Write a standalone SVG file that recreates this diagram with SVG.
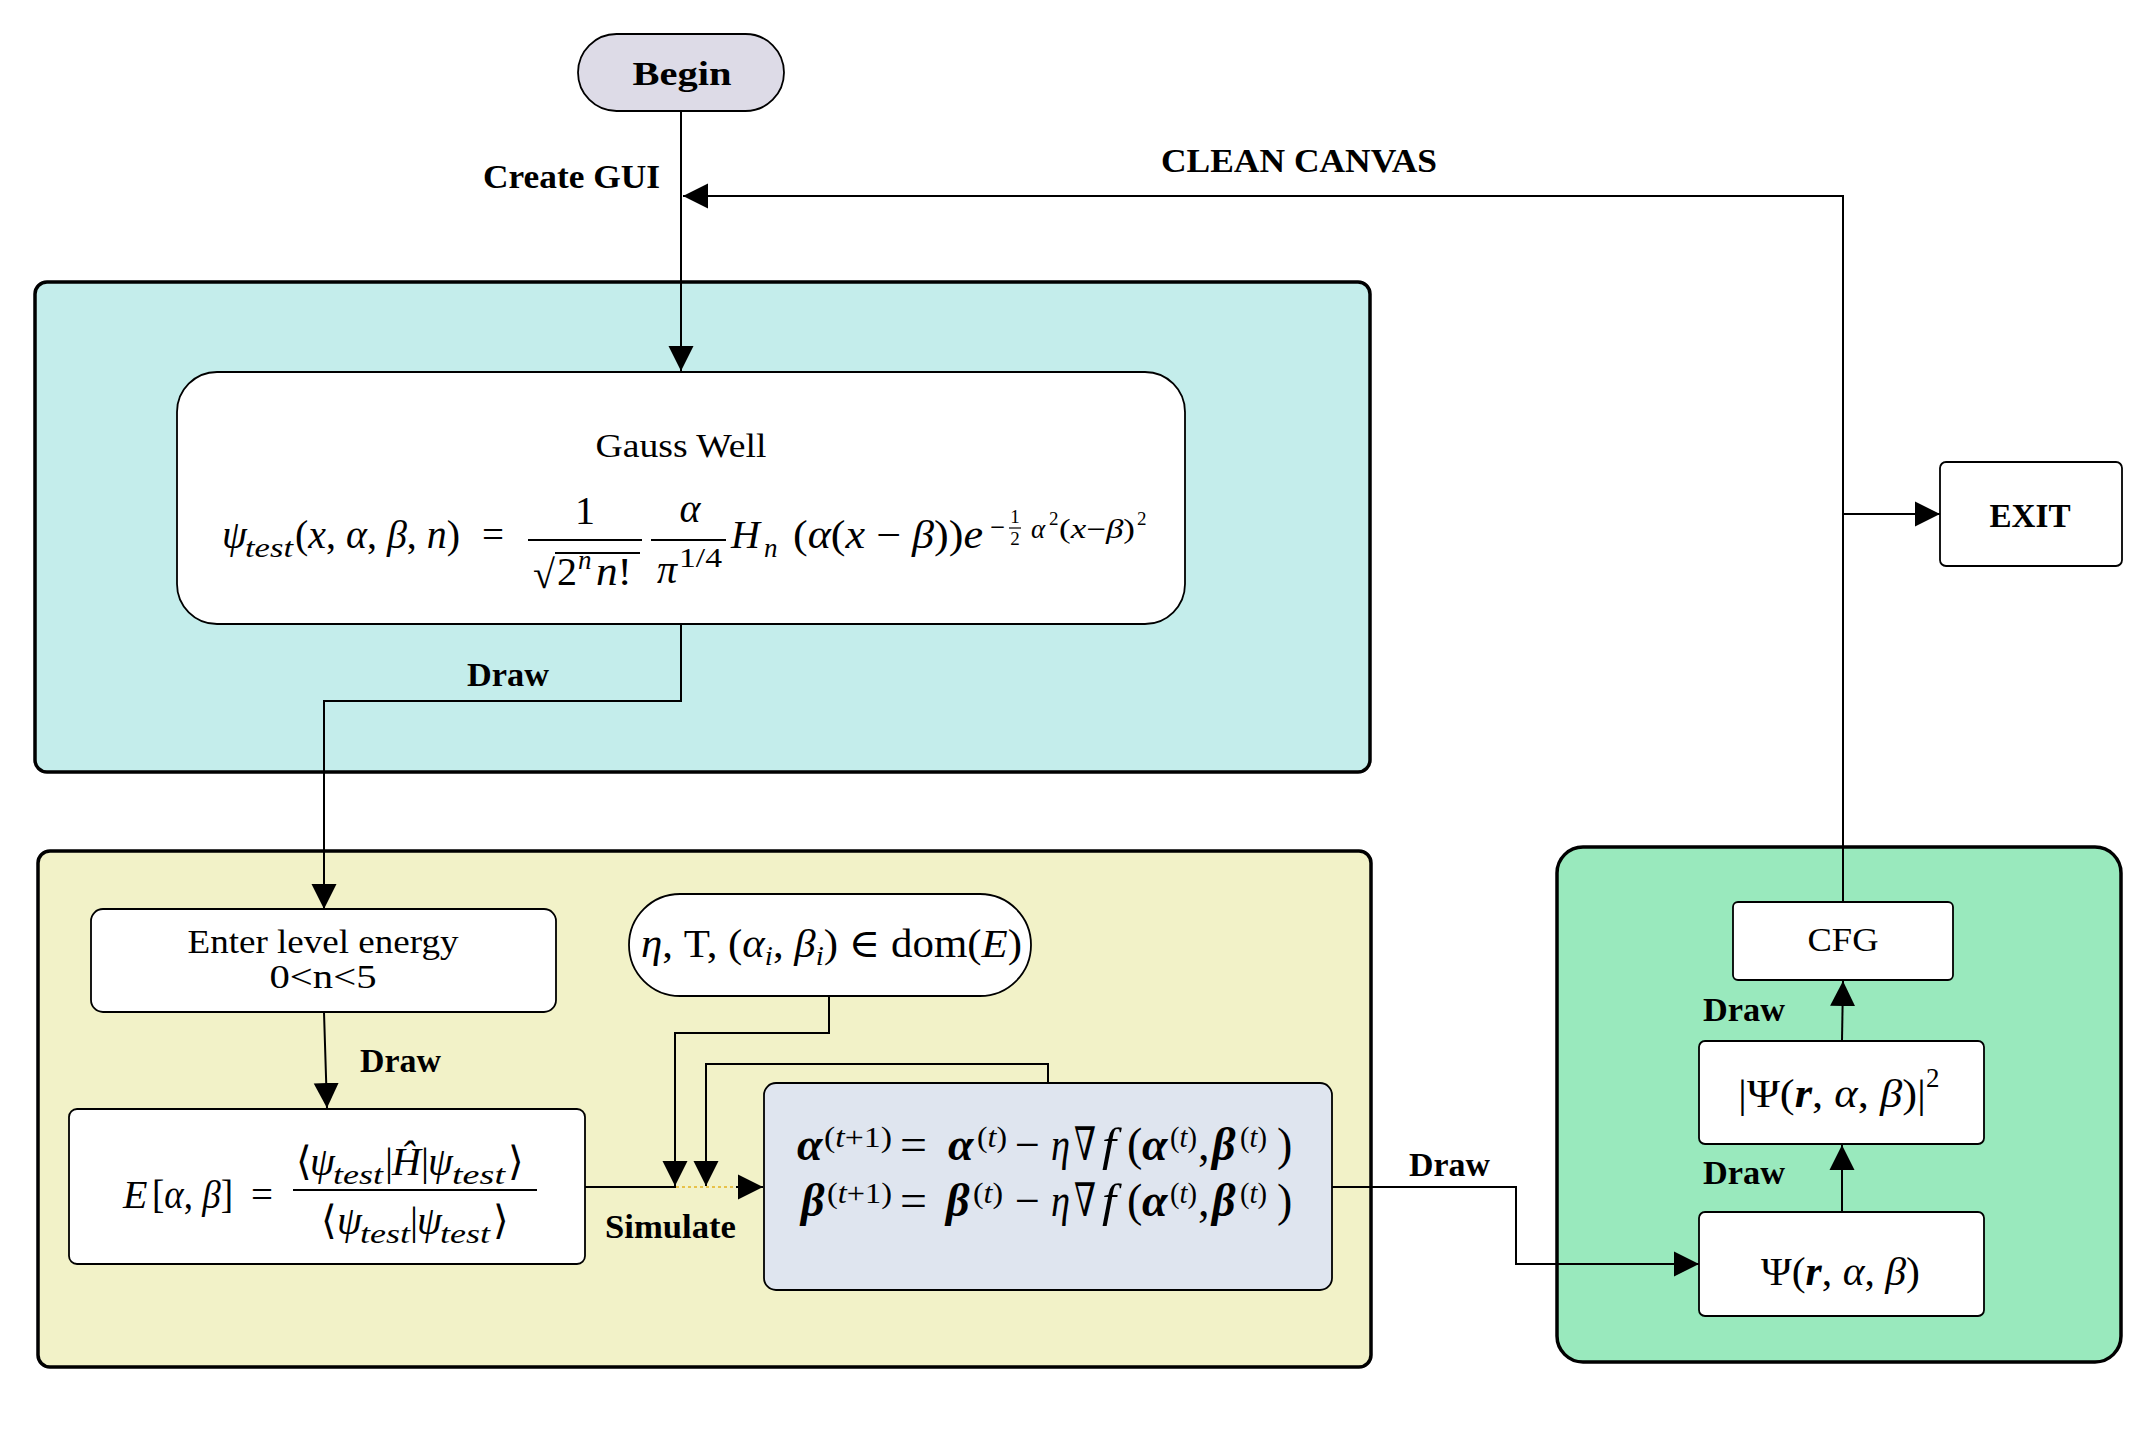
<svg xmlns="http://www.w3.org/2000/svg" width="2156" height="1440" viewBox="0 0 2156 1440">
<defs>
<style>
.cont{stroke:#000;stroke-width:3.5}
.node{stroke:#000;stroke-width:1.8}
.con{fill:none;stroke:#000;stroke-width:2}
.lbl{font-family:"Liberation Serif","DejaVu Serif",serif;font-weight:bold;font-size:33px;fill:#000}
.t{font-family:"Liberation Serif","DejaVu Serif",serif;font-size:33px;fill:#000}
.m{font-family:"Liberation Serif","DejaVu Serif",serif;font-size:40px;fill:#000}
.g{font-family:"Liberation Serif","DejaVu Serif",serif;font-size:46px;fill:#000}
.gs{font-family:"Liberation Serif","DejaVu Serif",serif;font-size:30px;fill:#000}
.i{font-style:italic}
.b{font-weight:bold}
.sm{font-size:27px}
.xs{font-size:19px}
.bar{stroke:#000;stroke-width:1.8}
</style>
<marker id="ah" markerUnits="userSpaceOnUse" markerWidth="26" markerHeight="26" refX="25" refY="13" orient="auto" viewBox="0 0 26 26"><path d="M0,0.5 L25,13 L0,25.5 Z" fill="#000"/></marker>
</defs>
<rect width="2156" height="1440" fill="#fff"/>

<!-- containers -->
<g id="container-gauss"><rect class="cont" x="35" y="282" width="1335" height="490" rx="12" fill="#c4edeb"/></g>
<g id="container-energy"><rect class="cont" x="38" y="851" width="1333" height="516" rx="12" fill="#f2f2c8"/></g>
<g id="container-plot"><rect class="cont" x="1557" y="847" width="564" height="515" rx="26" fill="#99e9bd"/></g>

<!-- nodes -->
<g id="begin">
<rect class="node" x="578" y="34" width="206" height="77" rx="38.5" fill="#dddbe7"/>
<text class="lbl" x="682" y="85" text-anchor="middle" font-size="40" textLength="99" lengthAdjust="spacingAndGlyphs">Begin</text>
</g>

<g id="gauss-well">
<rect class="node" x="177" y="372" width="1008" height="252" rx="40" fill="#fff"/>
<text class="t" x="681" y="457" text-anchor="middle" font-size="34" textLength="171" lengthAdjust="spacingAndGlyphs">Gauss Well</text>
<text class="m i" x="222" y="548">ψ</text>
<text class="m i sm" x="245" y="557" textLength="48" lengthAdjust="spacingAndGlyphs">test</text>
<text class="m" x="295" y="548" textLength="165" lengthAdjust="spacingAndGlyphs">(<tspan class="i">x</tspan>, <tspan class="i">α</tspan>, <tspan class="i">β</tspan>, <tspan class="i">n</tspan>)</text>
<text class="m" x="493" y="548" text-anchor="middle" textLength="22" lengthAdjust="spacingAndGlyphs">=</text>
<text class="m" x="585" y="524" text-anchor="middle">1</text>
<line class="bar" x1="528" y1="540" x2="642" y2="540"/>
<text class="m" x="533" y="588" font-size="44">√</text>
<line class="bar" x1="555" y1="553" x2="640" y2="553"/>
<text class="m" x="557" y="585">2</text>
<text class="m i sm" x="578" y="569">n</text>
<text class="m" x="596" y="585" textLength="36" lengthAdjust="spacingAndGlyphs"><tspan class="i">n</tspan>!</text>
<text class="m i" x="690" y="522" text-anchor="middle">α</text>
<line class="bar" x1="651" y1="540" x2="726" y2="540"/>
<text class="m i" x="657" y="583">π</text>
<text class="m sm" x="679" y="567" textLength="43" lengthAdjust="spacingAndGlyphs">1/4</text>
<text class="m i" x="731" y="548">H</text>
<text class="m i sm" x="764" y="557">n</text>
<text class="m" x="793" y="548" textLength="190" lengthAdjust="spacingAndGlyphs">(<tspan class="i">α</tspan>(<tspan class="i">x</tspan> − <tspan class="i">β</tspan>))<tspan class="i">e</tspan></text>
<text class="m sm" x="990" y="536" textLength="15" lengthAdjust="spacingAndGlyphs">−</text>
<text class="m xs" x="1015" y="523" text-anchor="middle">1</text>
<line x1="1009" y1="528" x2="1021" y2="528" stroke="#000" stroke-width="1.2"/>
<text class="m xs" x="1015" y="545" text-anchor="middle">2</text>
<text class="m i sm" x="1031" y="538">α</text>
<text class="m xs" x="1049" y="525">2</text>
<text class="m sm" x="1059" y="538" textLength="76" lengthAdjust="spacingAndGlyphs">(<tspan class="i">x</tspan>−<tspan class="i">β</tspan>)</text>
<text class="m xs" x="1137" y="525">2</text>
</g>

<g id="enter-level">
<rect class="node" x="91" y="909" width="465" height="103" rx="12" fill="#fff"/>
<text class="t" x="323" y="953" text-anchor="middle" textLength="271" lengthAdjust="spacingAndGlyphs">Enter level energy</text>
<text class="t" x="323" y="988" text-anchor="middle" textLength="107" lengthAdjust="spacingAndGlyphs">0&lt;n&lt;5</text>
</g>

<g id="energy-functional">
<rect class="node" x="69" y="1109" width="516" height="155" rx="8" fill="#fff"/>
<text class="m i" x="123" y="1208">E</text>
<text class="m" x="152" y="1208" textLength="81" lengthAdjust="spacingAndGlyphs">[<tspan class="i">α</tspan>, <tspan class="i">β</tspan>]</text>
<text class="m" x="262" y="1208" text-anchor="middle" textLength="22" lengthAdjust="spacingAndGlyphs">=</text>
<text class="m" x="296" y="1175">⟨</text>
<text class="m i" x="310" y="1175">ψ</text>
<text class="m i sm" x="333" y="1184" textLength="50" lengthAdjust="spacingAndGlyphs">test</text>
<text class="m" x="385" y="1175">|</text>
<text class="m i" x="392" y="1175">Ĥ</text>
<text class="m" x="421" y="1175">|</text>
<text class="m i" x="428" y="1175">ψ</text>
<text class="m i sm" x="452" y="1184" textLength="53" lengthAdjust="spacingAndGlyphs">test</text>
<text class="m" x="508" y="1175">⟩</text>
<line class="bar" x1="293" y1="1190" x2="537" y2="1190"/>
<text class="m" x="321" y="1234">⟨</text>
<text class="m i" x="337" y="1234">ψ</text>
<text class="m i sm" x="360" y="1243" textLength="50" lengthAdjust="spacingAndGlyphs">test</text>
<text class="m" x="410" y="1234">|</text>
<text class="m i" x="417" y="1234">ψ</text>
<text class="m i sm" x="440" y="1243" textLength="50" lengthAdjust="spacingAndGlyphs">test</text>
<text class="m" x="493" y="1234">⟩</text>
</g>

<g id="parameters">
<rect class="node" x="629" y="894" width="402" height="102" rx="51" fill="#fff"/>
<text class="m" x="641" y="957" textLength="381" lengthAdjust="spacingAndGlyphs"><tspan class="i">η</tspan>, T, (<tspan class="i">α</tspan><tspan class="i sm" dy="8">i</tspan><tspan dy="-8">, </tspan><tspan class="i">β</tspan><tspan class="i sm" dy="8">i</tspan><tspan dy="-8">) ∈ dom(</tspan><tspan class="i">E</tspan>)</text>
</g>

<g id="gradient-descent">
<rect class="node" x="764" y="1083" width="568" height="207" rx="12" fill="#dfe5ef"/>
<text class="g i b" x="797" y="1160">α</text>
<text class="gs" x="824" y="1147" textLength="68" lengthAdjust="spacingAndGlyphs">(<tspan class="i">t</tspan>+1)</text>
<text class="g" x="900" y="1160" textLength="27" lengthAdjust="spacingAndGlyphs">=</text>
<text class="g i b" x="948" y="1160">α</text>
<text class="gs" x="977" y="1147" textLength="30" lengthAdjust="spacingAndGlyphs">(<tspan class="i">t</tspan>)</text>
<text class="g" x="1015" y="1160" textLength="25" lengthAdjust="spacingAndGlyphs">−</text>
<text class="g i" x="1051" y="1160" textLength="19" lengthAdjust="spacingAndGlyphs">η</text>
<text class="g" x="1074" y="1160" textLength="22" lengthAdjust="spacingAndGlyphs">∇</text>
<text class="g i" x="1102" y="1160" textLength="14" lengthAdjust="spacingAndGlyphs">f</text>
<text class="g" x="1127" y="1160">(</text>
<text class="g i b" x="1142" y="1160">α</text>
<text class="gs" x="1170" y="1147" textLength="27" lengthAdjust="spacingAndGlyphs">(<tspan class="i">t</tspan>)</text>
<text class="g" x="1198" y="1160">,</text>
<text class="g i b" x="1212" y="1160">β</text>
<text class="gs" x="1240" y="1147" textLength="27" lengthAdjust="spacingAndGlyphs">(<tspan class="i">t</tspan>)</text>
<text class="g" x="1277" y="1160">)</text>

<text class="g i b" x="801" y="1216">β</text>
<text class="gs" x="827" y="1203" textLength="65" lengthAdjust="spacingAndGlyphs">(<tspan class="i">t</tspan>+1)</text>
<text class="g" x="900" y="1216" textLength="27" lengthAdjust="spacingAndGlyphs">=</text>
<text class="g i b" x="946" y="1216">β</text>
<text class="gs" x="973" y="1203" textLength="30" lengthAdjust="spacingAndGlyphs">(<tspan class="i">t</tspan>)</text>
<text class="g" x="1015" y="1216" textLength="25" lengthAdjust="spacingAndGlyphs">−</text>
<text class="g i" x="1051" y="1216" textLength="19" lengthAdjust="spacingAndGlyphs">η</text>
<text class="g" x="1074" y="1216" textLength="22" lengthAdjust="spacingAndGlyphs">∇</text>
<text class="g i" x="1102" y="1216" textLength="14" lengthAdjust="spacingAndGlyphs">f</text>
<text class="g" x="1127" y="1216">(</text>
<text class="g i b" x="1142" y="1216">α</text>
<text class="gs" x="1170" y="1203" textLength="27" lengthAdjust="spacingAndGlyphs">(<tspan class="i">t</tspan>)</text>
<text class="g" x="1198" y="1216">,</text>
<text class="g i b" x="1212" y="1216">β</text>
<text class="gs" x="1240" y="1203" textLength="27" lengthAdjust="spacingAndGlyphs">(<tspan class="i">t</tspan>)</text>
<text class="g" x="1277" y="1216">)</text>
</g>

<g id="psi">
<rect class="node" x="1699" y="1212" width="285" height="104" rx="6" fill="#fff"/>
<text class="m" x="1761" y="1285" textLength="159" lengthAdjust="spacingAndGlyphs">Ψ(<tspan class="i b">r</tspan>, <tspan class="i">α</tspan>, <tspan class="i">β</tspan>)</text>
</g>

<g id="psi-squared">
<rect class="node" x="1699" y="1041" width="285" height="103" rx="6" fill="#fff"/>
<text class="m" x="1738" y="1107" textLength="188" lengthAdjust="spacingAndGlyphs">|Ψ(<tspan class="i b">r</tspan>, <tspan class="i">α</tspan>, <tspan class="i">β</tspan>)|</text>
<text class="m sm" x="1926" y="1087">2</text>
</g>

<g id="cfg">
<rect class="node" x="1733" y="902" width="220" height="78" rx="5" fill="#fff"/>
<text class="t" x="1843" y="951" text-anchor="middle" textLength="71" lengthAdjust="spacingAndGlyphs">CFG</text>
</g>

<g id="exit">
<rect class="node" x="1940" y="462" width="182" height="104" rx="6" fill="#fff"/>
<text class="lbl" x="2030" y="527" text-anchor="middle" textLength="81" lengthAdjust="spacingAndGlyphs">EXIT</text>
</g>

<!-- connectors -->
<g id="connectors">
<path class="con" d="M681,111 L681,371" marker-end="url(#ah)"/>
<path class="con" d="M1843,902 L1843,196 L683,196" marker-end="url(#ah)"/>
<path class="con" d="M1843,514 L1940,514" marker-end="url(#ah)"/>
<path class="con" d="M681,624 L681,701 L324,701 L324,909" marker-end="url(#ah)"/>
<path class="con" d="M324,1012 L327,1108" marker-end="url(#ah)"/>
<path class="con" d="M585,1187 L676,1187"/>
<path d="M676,1187 L737,1187" fill="none" stroke="#e8c24a" stroke-width="2" stroke-dasharray="3,3"/>
<path class="con" d="M736,1187 L763,1187" marker-end="url(#ah)"/>
<path class="con" d="M829,997 L829,1033 L675,1033 L675,1186" marker-end="url(#ah)"/>
<path class="con" d="M1048,1083 L1048,1064 L706,1064 L706,1186" marker-end="url(#ah)"/>
<path class="con" d="M1332,1187 L1516,1187 L1516,1264 L1699,1264" marker-end="url(#ah)"/>
<path class="con" d="M1842,1212 L1842,1145" marker-end="url(#ah)"/>
<path class="con" d="M1842,1041 L1843,981" marker-end="url(#ah)"/>
<text class="lbl" x="483" y="188" textLength="177" lengthAdjust="spacingAndGlyphs">Create GUI</text>
<text class="lbl" x="1161" y="172" textLength="276" lengthAdjust="spacingAndGlyphs">CLEAN CANVAS</text>
<text class="lbl" x="467" y="686" textLength="82" lengthAdjust="spacingAndGlyphs">Draw</text>
<text class="lbl" x="360" y="1072" textLength="81" lengthAdjust="spacingAndGlyphs">Draw</text>
<text class="lbl" x="605" y="1238" textLength="131" lengthAdjust="spacingAndGlyphs">Simulate</text>
<text class="lbl" x="1409" y="1176" textLength="81" lengthAdjust="spacingAndGlyphs">Draw</text>
<text class="lbl" x="1703" y="1021" textLength="82" lengthAdjust="spacingAndGlyphs">Draw</text>
<text class="lbl" x="1703" y="1184" textLength="82" lengthAdjust="spacingAndGlyphs">Draw</text>
</g>
</svg>
